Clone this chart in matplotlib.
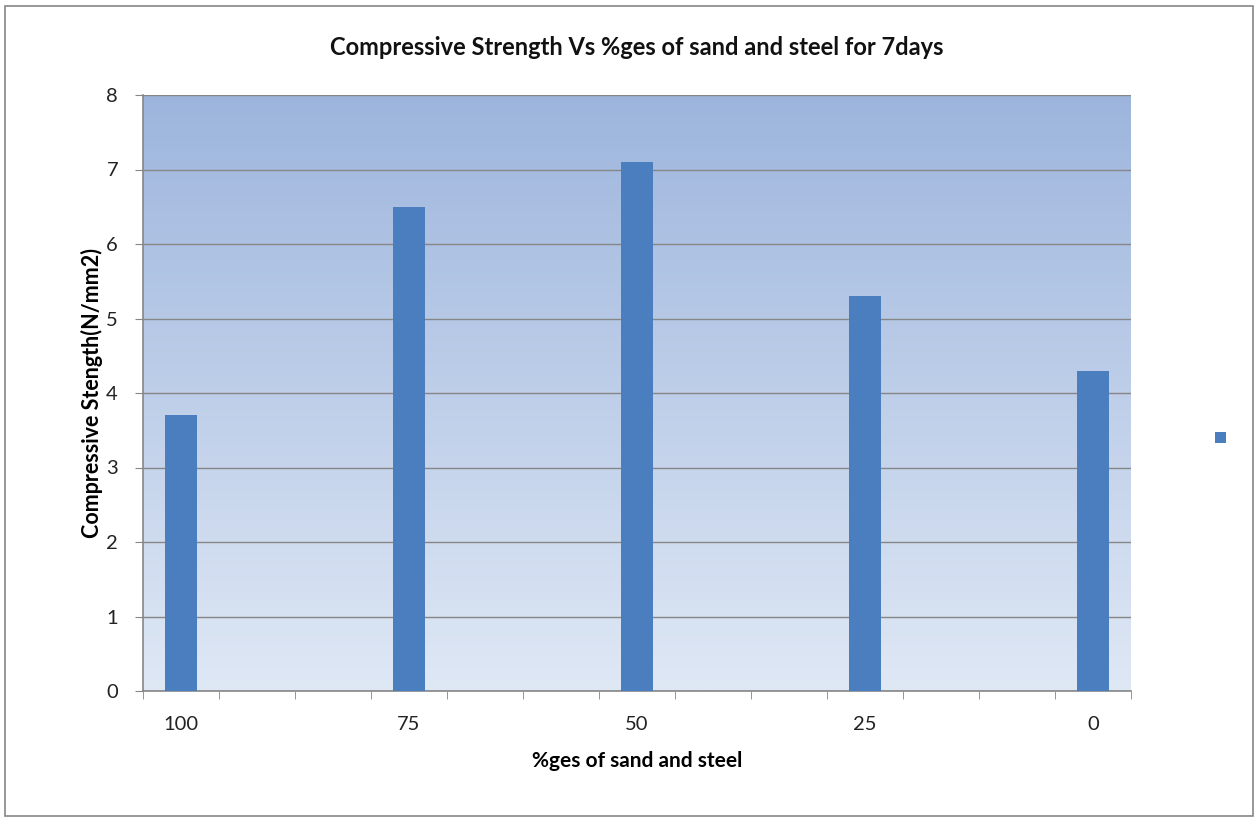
import matplotlib
matplotlib.use("Agg")
import matplotlib.pyplot as plt
import numpy as np
from matplotlib.colors import LinearSegmentedColormap

# 13 category slots on the x axis, only every third one carries data
x_labels = ["100", "", "", "75", "", "", "50", "", "", "25", "", "", "0"]
strength = [3.7, np.nan, np.nan, 6.5, np.nan, np.nan, 7.1, np.nan, np.nan, 5.3, np.nan, np.nan, 4.3]

plt.rcParams["font.family"] = ["Lato", "DejaVu Sans"]

fig = plt.figure(figsize=(12.55, 8.18), dpi=100)
ax = fig.add_axes([143 / 1255, 127 / 818, 988 / 1255, 596 / 818])

pos = np.arange(len(x_labels))
ax.set_xlim(-0.5, len(x_labels) - 0.5)
ax.set_ylim(0, 8)

# gradient background of the plot area
cmap = LinearSegmentedColormap.from_list("bg", ["#dfe8f5", "#9db5dd"])
grad = np.linspace(0, 1, 256).reshape(-1, 1)
ax.imshow(grad, aspect="auto", cmap=cmap, origin="lower",
          extent=[-0.5, len(x_labels) - 0.5, 0, 8], zorder=0)

ax.yaxis.grid(True, color="#868686", linewidth=1)
ax.set_axisbelow(True)
bars = ax.bar(pos, strength, width=0.42, color="#4a7ebf", zorder=3)

ax.set_yticks(range(0, 9))
ax.set_xticks(pos)
ax.set_xticklabels(x_labels)
ax.set_xticks(np.arange(-0.5, len(x_labels)), minor=True)
ax.tick_params(axis="x", which="major", length=0, pad=18, labelsize=14.5, colors="#222222")
ax.tick_params(axis="x", which="minor", length=6, color="#868686", direction="out")
ax.tick_params(axis="y", length=6, color="#868686", labelsize=14.5, colors="#222222", pad=12)

for s in ["top", "right"]:
    ax.spines[s].set_visible(False)
for s in ["left", "bottom"]:
    ax.spines[s].set_color("#868686")
    ax.spines[s].set_linewidth(1.2)

ax.set_title("Compressive Strength Vs %ges of sand and steel for 7days",
             fontsize=17, fontweight="bold", pad=29, color="#111111")
ax.set_xlabel("%ges of sand and steel", fontsize=15, fontweight="bold", labelpad=13)
ax.set_ylabel("Compressive Stength(N/mm2)", fontsize=15.5, fontweight="bold", labelpad=2)

# legend with no text, just the marker
fig.legend(handles=[bars], labels=[" "], loc="center", frameon=False,
           bbox_to_anchor=(1228 / 1255, 1 - 438 / 818), handlelength=0.8, handleheight=0.8)

# thin border round the chart area
fig.patches.append(plt.Rectangle((5 / 1255, 2 / 818), 1248 / 1255, 810 / 818,
                                 transform=fig.transFigure, fill=False,
                                 edgecolor="#868686", linewidth=1.2))

fig.savefig("out.png", dpi=100)
